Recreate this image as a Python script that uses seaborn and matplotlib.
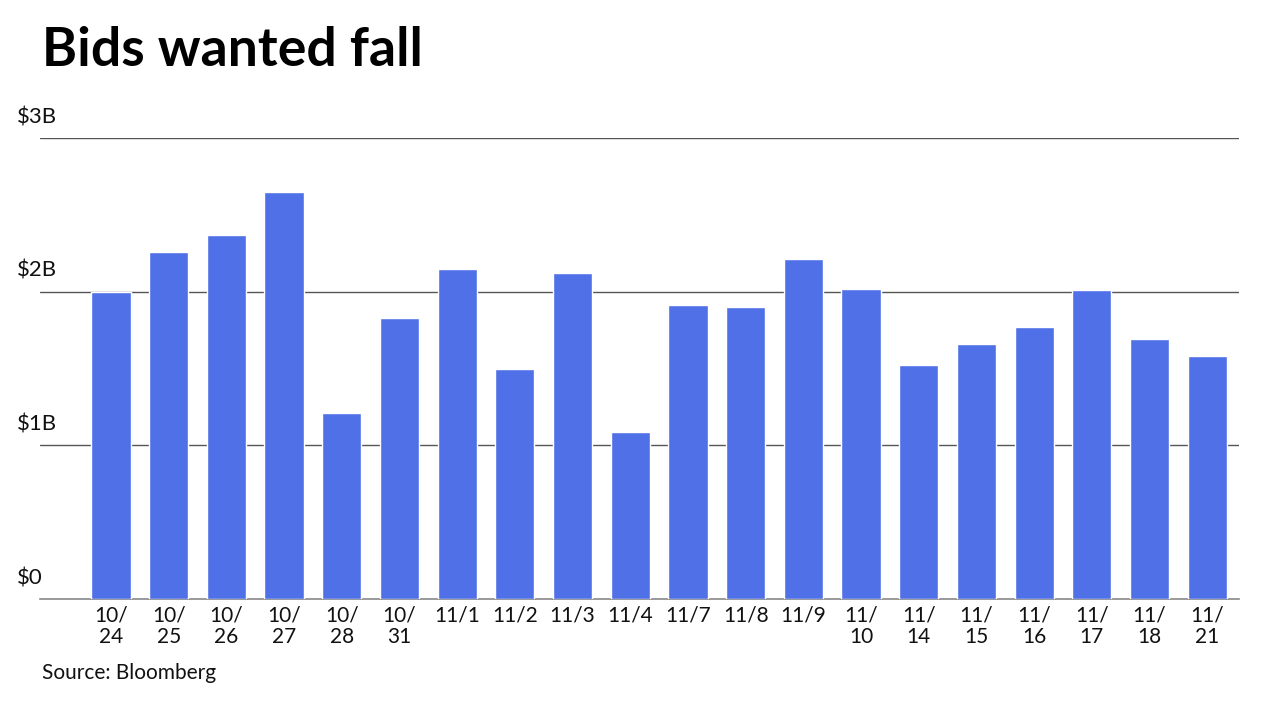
import matplotlib
matplotlib.use("Agg")
import matplotlib.pyplot as plt
import matplotlib.transforms as mtransforms
import pandas as pd
import seaborn as sns

# trading days and bids-wanted volume ($ billions)
dates = ["10/24", "10/25", "10/26", "10/27", "10/28", "10/31", "11/1", "11/2",
         "11/3", "11/4", "11/7", "11/8", "11/9", "11/10", "11/14", "11/15",
         "11/16", "11/17", "11/18", "11/21"]
tick_labels = ["10/\n24", "10/\n25", "10/\n26", "10/\n27", "10/\n28", "10/\n31",
               "11/1", "11/2", "11/3", "11/4", "11/7", "11/8", "11/9",
               "11/\n10", "11/\n14", "11/\n15", "11/\n16", "11/\n17", "11/\n18", "11/\n21"]
values = [2.00, 2.26, 2.37, 2.65, 1.21, 1.83, 2.15, 1.50, 2.12, 1.09,
          1.91, 1.90, 2.21, 2.02, 1.52, 1.66, 1.77, 2.01, 1.69, 1.58]
y_ticks = [0, 1, 2, 3]
y_labels = ["$0", "$1B", "$2B", "$3B"]

sns.set_theme(style="white")
plt.rcParams["font.family"] = ["Lato", "DejaVu Sans"]

df = pd.DataFrame({"date": dates, "value": values})

fig = plt.figure(figsize=(12.8, 7.2), dpi=100)
ax = fig.add_axes([40 / 1280, 121 / 720, 1199 / 1280, 461 / 720])

sns.barplot(data=df, x="date", y="value", color="#5070E8", saturation=1,
            width=0.68, ax=ax, zorder=3)

ax.set_xlim(-1.23, 19.55)
ax.set_ylim(0, 3)
ax.set_yticks(y_ticks)
ax.set_yticklabels([])
ax.tick_params(axis="y", length=0)
ax.set_xticks(range(len(tick_labels)))
ax.set_xticklabels(tick_labels, fontsize=15, linespacing=1.05, color="#111111")
ax.tick_params(axis="x", length=0, pad=5)
ax.set_xlabel("")
ax.set_ylabel("")

for s in ["top", "right", "left"]:
    ax.spines[s].set_visible(False)
ax.spines["bottom"].set_color("#888888")
ax.spines["bottom"].set_linewidth(1.2)

for t in y_ticks[1:]:
    ax.axhline(t, color="#555555", lw=1, zorder=1)

trans = mtransforms.blended_transform_factory(fig.transFigure, ax.transData)
for t, lab in zip(y_ticks, y_labels):
    ax.text(17 / 1280, t + 0.07, lab, transform=trans, fontsize=16,
            ha="left", va="bottom", color="#111111")

fig.text(42 / 1280, 1 - 50 / 720, "Bids wanted fall", fontsize=38.5,
         fontweight="bold", ha="left", va="center", color="black")
fig.text(42 / 1280, 1 - 673 / 720, "Source: Bloomberg", fontsize=15,
         ha="left", va="center", color="#111111")

fig.savefig("out.png", dpi=100)
